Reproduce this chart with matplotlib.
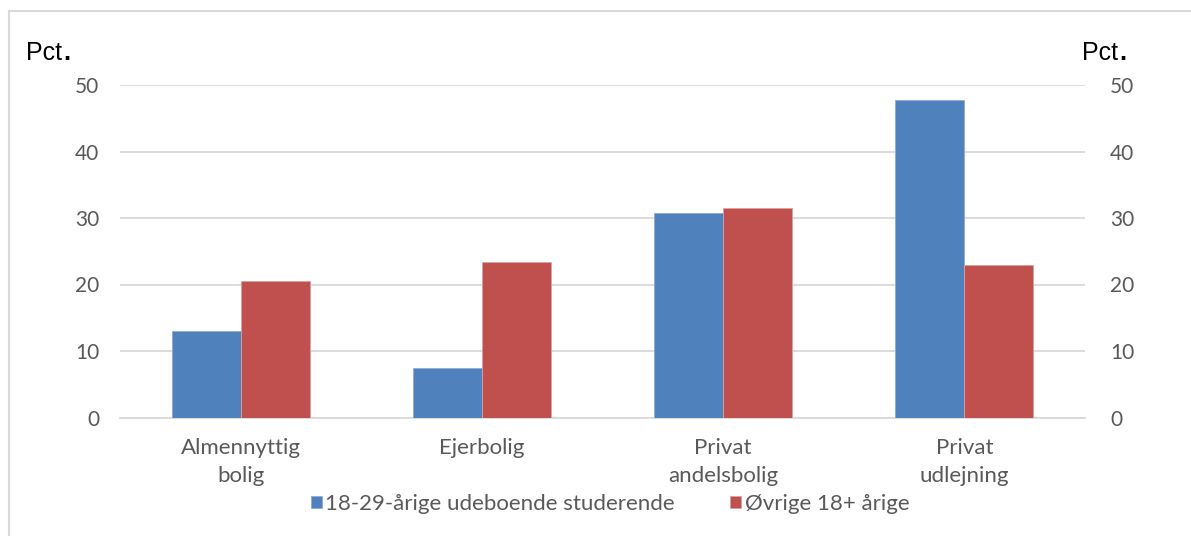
import numpy as np
import matplotlib.pyplot as plt
from matplotlib.lines import Line2D

categories = ["Almennyttig\nbolig", "Ejerbolig", "Privat\nandelsbolig", "Privat\nudlejning"]
studerende = [13.0, 7.5, 30.7, 47.7]
oevrige = [20.6, 23.4, 31.5, 22.9]
series_names = ["18-29-årige udeboende studerende", "Øvrige 18+ årige"]
yticks = [0, 10, 20, 30, 40, 50]

blue = "#4f81bd"
red = "#c0504d"
grey_txt = "#595959"
grid_col = "#d9d9d9"

plt.rcParams["font.family"] = ["Lato", "DejaVu Sans"]

fig = plt.figure(figsize=(11.91, 5.36), dpi=100)
W, H = 1191, 536
left, right, bottom, top = 120, 1085, 417.5, 85
ax = fig.add_axes([left / W, 1 - bottom / H, (right - left) / W, (bottom - top) / H])

x = np.arange(len(categories))
bw = 0.286
ax.bar(x - bw / 2, studerende, bw, color=blue, edgecolor="#8eaadb", linewidth=0.6,
       label=series_names[0], zorder=3)
ax.bar(x + bw / 2, oevrige, bw, color=red, edgecolor="#e0a0a0", linewidth=0.6,
       label=series_names[1], zorder=3)

ax.set_xlim(-0.5, len(categories) - 0.5)
ax.set_ylim(0, 50)
ax.set_yticks(yticks)
ax.yaxis.grid(True, color=grid_col, linewidth=1.3, zorder=0)
ax.set_axisbelow(True)
for s in ["top", "right", "left"]:
    ax.spines[s].set_visible(False)
ax.spines["bottom"].set_color(grid_col)
ax.spines["bottom"].set_linewidth(1.3)
ax.tick_params(axis="y", length=0, pad=15, labelsize=15, labelcolor=grey_txt)
ax.set_xticks(x)
ax.set_xticklabels(categories, fontsize=16, color=grey_txt, linespacing=1.45)
ax.tick_params(axis="x", length=0, pad=15)

ax2 = ax.twinx()
ax2.set_ylim(0, 50)
ax2.set_yticks(yticks)
for s in ["top", "right", "left", "bottom"]:
    ax2.spines[s].set_visible(False)
ax2.tick_params(axis="y", length=0, pad=18, labelsize=15, labelcolor=grey_txt)

fig.text(26 / W, 1 - 53 / H, "Pct", family="Liberation Sans", fontsize=18, va="center")
fig.text(63 / W, 1 - 53 / H, ".", family="Liberation Sans", fontsize=18,
         fontweight="bold", va="center")
fig.text(1082 / W, 1 - 53 / H, "Pct", family="Liberation Sans", fontsize=18, va="center")
fig.text(1119 / W, 1 - 53 / H, ".", family="Liberation Sans", fontsize=18,
         fontweight="bold", va="center")

fig.legend(loc="center", bbox_to_anchor=(610 / W, 1 - 504 / H), ncol=2, frameon=False,
           fontsize=16, labelcolor=grey_txt, handlelength=0.5, handleheight=0.5,
           handletextpad=0.15, columnspacing=2.5)

# chart area border (top and left only visible)
fig.add_artist(Line2D([8.5 / W, 8.5 / W], [0, 1 - 11 / H], color="#d9d9d9", linewidth=1.5))
fig.add_artist(Line2D([8.5 / W, 1], [1 - 11 / H, 1 - 11 / H], color="#d9d9d9", linewidth=1.5))

fig.savefig("out.png", dpi=100)
